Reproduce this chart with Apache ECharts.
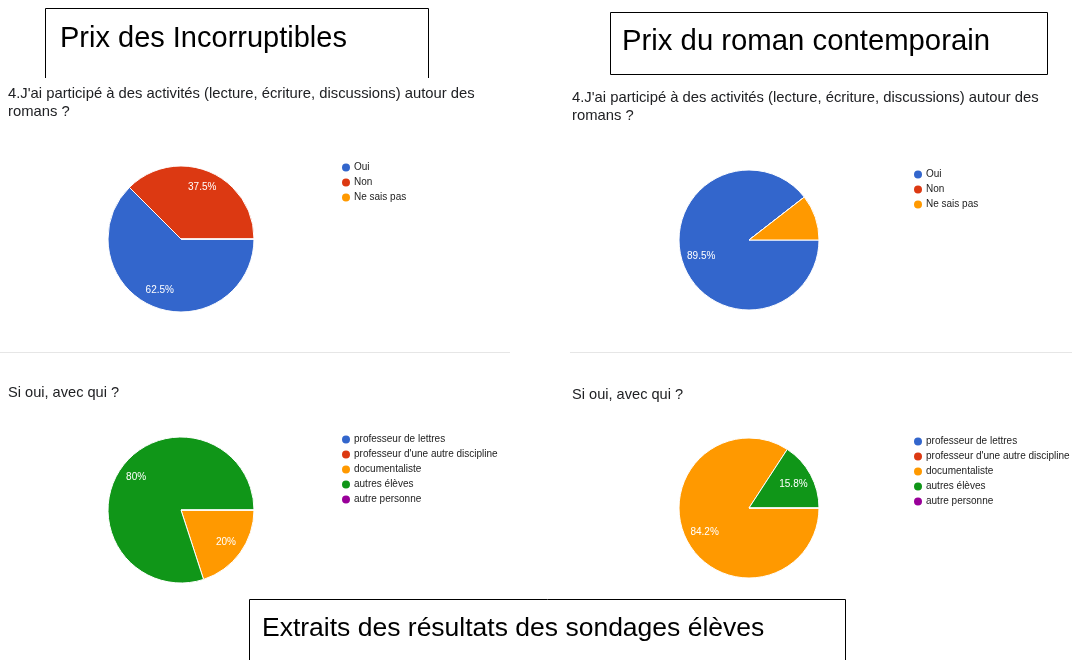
<!DOCTYPE html>
<html>
<head>
<meta charset="utf-8">
<script src="https://cdn.jsdelivr.net/npm/echarts@6/dist/echarts.min.js"></script>
<style>
  html, body { margin: 0; padding: 0; background: #fff; }
  #main { width: 1072px; height: 660px; }
</style>
</head>
<body>
<div id="main"></div>
<script>
"use strict";

// data
var q1Names = ["Oui", "Non", "Ne sais pas"];
var q1Incorruptibles = [62.5, 37.5, 0];
var q1Contemporain = [89.5, 0, 10.5];

var q2Names = ["professeur de lettres", "professeur d'une autre discipline", "documentaliste", "autres élèves", "autre personne"];
var q2Incorruptibles = [0, 0, 20, 80, 0];
var q2Contemporain = [0, 0, 84.2, 15.8, 0];

var q1Colors = ['#3366cc', '#dc3912', '#ff9900'];
var q2Colors = ['#3366cc', '#dc3912', '#ff9900', '#109618', '#990099'];

var questionText = "4.J'ai participé à des activités (lecture, écriture, discussions) autour des\nromans ?";
var question2Text = "Si oui, avec qui ?";

var sans = 'Liberation Sans, Arial, sans-serif';

function buildData(names, values, colors) {
    return names.map(function (n, i) {
        return { name: n, value: values[i], itemStyle: { color: colors[i] } };
    });
}

function pieSeries(center, r, data) {
    return {
        type: 'pie',
        center: center,
        radius: r,
        startAngle: 0,
        clockwise: true,
        animation: false,
        label: { show: false },
        labelLine: { show: false },
        emphasis: { scale: false },
        itemStyle: { borderColor: '#fff', borderWidth: 1 },
        data: data
    };
}

// transparent ring on top, only used to place the % labels part way out
function labelSeries(center, r, inner, names, values) {
    return {
        type: 'pie',
        center: center,
        radius: [Math.round(r * inner), r],
        startAngle: 0,
        clockwise: true,
        silent: true,
        animation: false,
        itemStyle: { color: 'rgba(0,0,0,0)' },
        label: {
            show: true,
            position: 'inside',
            color: '#fff',
            fontSize: 10,
            fontFamily: sans,
            formatter: function (p) {
                return p.value >= 15 ? p.value + '%' : '';
            }
        },
        labelLine: { show: false },
        data: names.map(function (n, i) { return { name: n, value: values[i] }; })
    };
}

function legend(left, top, names) {
    return {
        left: left,
        top: top,
        padding: 0,
        orient: 'vertical',
        icon: 'circle',
        itemWidth: 10,
        itemHeight: 10,
        itemGap: 0,
        selectedMode: false,
        textStyle: {
            color: '#222',
            fontSize: 10,
            lineHeight: 15,
            padding: [0, 0, 0, -2],
            fontFamily: sans
        },
        data: names
    };
}

var chart = echarts.init(document.getElementById('main'));

var qStyle = {
    color: '#202124',
    fontSize: 14.8,
    fontWeight: 'normal',
    lineHeight: 18,
    fontFamily: sans
};
var q2Style = {
    color: '#202124',
    fontSize: 14.6,
    fontWeight: 'normal',
    fontFamily: sans
};

chart.setOption({
    backgroundColor: '#fff',
    title: [
        { text: questionText, left: 3, top: 80, textStyle: qStyle },
        { text: questionText, left: 567, top: 84, textStyle: qStyle },
        { text: question2Text, left: 3, top: 380, textStyle: q2Style },
        { text: question2Text, left: 567, top: 382, textStyle: q2Style }
    ],
    legend: [
        legend(340, 160, q1Names),
        legend(912, 167, q1Names),
        legend(340, 432, q2Names),
        legend(912, 434, q2Names)
    ],
    graphic: [
        { type: 'polyline', shape: { points: [[45.5, 78], [45.5, 8.5], [428.5, 8.5], [428.5, 78]] }, style: { stroke: '#000', fill: null, lineWidth: 1 } },
        { type: 'text', left: 60, top: 24, style: { text: 'Prix des Incorruptibles', fill: '#000', font: '29px ' + sans } },
        { type: 'rect', shape: { x: 610.5, y: 12.5, width: 437, height: 62 }, style: { stroke: '#000', fill: null, lineWidth: 1 } },
        { type: 'text', left: 622, top: 27, style: { text: 'Prix du roman contemporain', fill: '#000', font: '29.3px ' + sans } },
        { type: 'line', shape: { x1: 0, y1: 352.5, x2: 510, y2: 352.5 }, style: { stroke: '#e6e6e6', lineWidth: 1 } },
        { type: 'line', shape: { x1: 570, y1: 352.5, x2: 1072, y2: 352.5 }, style: { stroke: '#e6e6e6', lineWidth: 1 } },
        { type: 'polyline', shape: { points: [[249.5, 660], [249.5, 599.5], [845.5, 599.5], [845.5, 660]] }, style: { stroke: '#000', fill: null, lineWidth: 1 } },
        { type: 'text', left: 262, top: 615, style: { text: 'Extraits des résultats des sondages élèves', fill: '#000', font: '26.5px ' + sans } }
    ],
    series: [
        pieSeries([181, 239], 73, buildData(q1Names, q1Incorruptibles, q1Colors)),
        pieSeries([749, 240], 70, buildData(q1Names, q1Contemporain, q1Colors)),
        pieSeries([181, 510], 73, buildData(q2Names, q2Incorruptibles, q2Colors)),
        pieSeries([749, 508], 70, buildData(q2Names, q2Contemporain, q2Colors)),
        labelSeries([181, 239], 73, 0.44, q1Names, q1Incorruptibles),
        labelSeries([749, 240], 70, 0.36, q1Names, q1Contemporain),
        labelSeries([181, 510], 73, 0.44, q2Names, q2Incorruptibles),
        labelSeries([749, 508], 70, 0.36, q2Names, q2Contemporain)
    ]
});
</script>
</body>
</html>
